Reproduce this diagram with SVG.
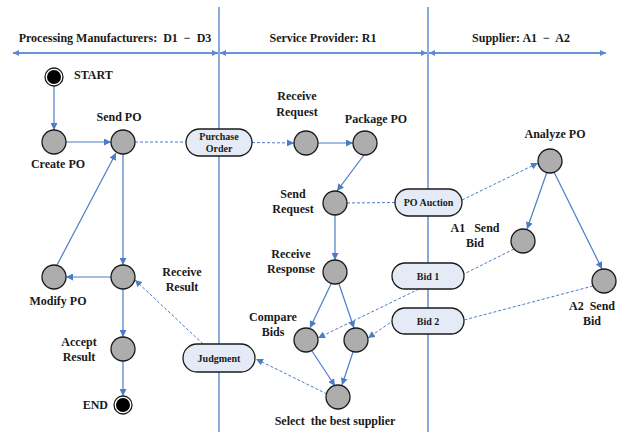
<svg xmlns="http://www.w3.org/2000/svg" width="622" height="432" viewBox="0 0 622 432" font-family="'Liberation Serif', 'DejaVu Serif', serif" font-weight="bold">
<style>
text{font-family:'Liberation Serif','DejaVu Serif',serif;font-weight:700;fill:#1a1a1a;white-space:pre}
.lbl{font-size:12px}
.hdr{font-size:12px}
.pill text{font-size:10px}
.st{fill:#adadad;stroke:#1a1a1a;stroke-width:1.3}
.pill rect{fill:#e4ebf6;stroke:#1a1a1a;stroke-width:1.3}
.lane{stroke:#8eaadb;stroke-width:2;fill:none}
.solid{stroke:#4a7cc8;stroke-width:1.2;fill:none}
.dash{stroke:#4a7cc8;stroke-width:1;stroke-dasharray:3 2;fill:none}
.harr{stroke:#6a93d4;stroke-width:2;fill:none}
</style>
<defs>
<marker id="ah" viewBox="0 0 10 10" refX="10" refY="5" markerWidth="7" markerHeight="7" markerUnits="userSpaceOnUse" orient="auto">
<path d="M0,0 L10,5 L0,10 z" fill="#4a7cc8"/>
</marker>
<marker id="hh" viewBox="0 0 10 10" refX="10" refY="5" markerWidth="6" markerHeight="6" markerUnits="userSpaceOnUse" orient="auto-start-reverse">
<path d="M0,0 L10,5 L0,10 z" fill="#5b88d0"/>
</marker>
</defs>

<g id="lanes">
<line class="lane" x1="219" y1="7" x2="219" y2="432"/>
<line class="lane" x1="428" y1="7" x2="428" y2="432"/>
<line class="harr" x1="13" y1="53" x2="218" y2="53" marker-start="url(#hh)" marker-end="url(#hh)"/>
<line class="harr" x1="220" y1="53" x2="427" y2="53" marker-start="url(#hh)" marker-end="url(#hh)"/>
<line class="harr" x1="429" y1="53" x2="606" y2="53" marker-start="url(#hh)" marker-end="url(#hh)"/>
<text class="hdr" x="115" y="42" text-anchor="middle" xml:space="preserve">Processing Manufacturers:  D1  −  D3</text>
<text class="hdr" x="323" y="42" text-anchor="middle">Service Provider: R1</text>
<text class="hdr" x="521" y="42" text-anchor="middle" xml:space="preserve">Supplier: A1  −  A2</text>
</g>

<g id="connectors">
<line class="solid" x1="54" y1="86" x2="54" y2="130" marker-end="url(#ah)"/>
<line class="solid" x1="66" y1="142" x2="111" y2="142" marker-end="url(#ah)"/>
<line class="dash" x1="135" y1="142" x2="186" y2="142"/>
<line class="dash" x1="252" y1="142.5" x2="294" y2="143" marker-end="url(#ah)"/>
<line class="solid" x1="318" y1="143" x2="353" y2="143" marker-end="url(#ah)"/>
<line class="solid" x1="364" y1="155" x2="337" y2="191" marker-end="url(#ah)"/>
<line class="dash" x1="347" y1="203" x2="395" y2="202.5"/>
<line class="dash" x1="462" y1="200" x2="538" y2="163" marker-end="url(#ah)"/>
<line class="solid" x1="547" y1="172" x2="527" y2="229" marker-end="url(#ah)"/>
<line class="solid" x1="554" y1="172" x2="602" y2="269" marker-end="url(#ah)"/>
<line class="dash" x1="514" y1="249" x2="464" y2="274"/>
<line class="dash" x1="593" y1="286" x2="464" y2="320"/>
<line class="solid" x1="335" y1="215" x2="335" y2="260" marker-end="url(#ah)"/>
<line class="solid" x1="331" y1="284" x2="310" y2="328" marker-end="url(#ah)"/>
<line class="solid" x1="339" y1="284" x2="354" y2="328" marker-end="url(#ah)"/>
<line class="dash" x1="419" y1="289" x2="318" y2="338" marker-end="url(#ah)"/>
<line class="dash" x1="394" y1="320" x2="368" y2="338" marker-end="url(#ah)"/>
<line class="solid" x1="312" y1="351" x2="335" y2="386" marker-end="url(#ah)"/>
<line class="solid" x1="353" y1="352" x2="342" y2="385" marker-end="url(#ah)"/>
<line class="dash" x1="327" y1="394" x2="256" y2="359" marker-end="url(#ah)"/>
<line class="dash" x1="203" y1="344" x2="135" y2="280" marker-end="url(#ah)"/>
<line class="solid" x1="123" y1="154" x2="123" y2="265" marker-end="url(#ah)"/>
<line class="solid" x1="111" y1="277" x2="66" y2="277" marker-end="url(#ah)"/>
<line class="solid" x1="57" y1="265" x2="116" y2="153" marker-end="url(#ah)"/>
<line class="solid" x1="123" y1="289" x2="123" y2="337" marker-end="url(#ah)"/>
<line class="solid" x1="123" y1="361" x2="123" y2="396" marker-end="url(#ah)"/>
</g>

<g id="start">
<circle cx="54" cy="77" r="9" fill="#fff" stroke="#1a1a1a" stroke-width="1.3"/>
<circle cx="54" cy="77" r="7" fill="#000"/>
<text class="lbl" x="74" y="79">START</text>
</g>
<g id="create-po"><circle class="st" cx="54" cy="142" r="12"/><text class="lbl" x="58" y="168" text-anchor="middle">Create PO</text></g>
<g id="send-po"><circle class="st" cx="123" cy="142" r="12"/><text class="lbl" x="119" y="121" text-anchor="middle">Send PO</text></g>
<g id="purchase-order" class="pill"><rect x="186" y="129" width="66" height="27" rx="13.5"/><text x="219" y="140" text-anchor="middle">Purchase</text><text x="219" y="152" text-anchor="middle">Order</text></g>
<g id="receive-request"><circle class="st" cx="306" cy="143" r="12"/><text class="lbl" x="297" y="100" text-anchor="middle">Receive</text><text class="lbl" x="297" y="116" text-anchor="middle">Request</text></g>
<g id="package-po"><circle class="st" cx="365" cy="143" r="12"/><text class="lbl" x="376" y="123" text-anchor="middle">Package PO</text></g>
<g id="send-request"><circle class="st" cx="335" cy="203" r="12"/><text class="lbl" x="293" y="198" text-anchor="middle">Send</text><text class="lbl" x="293" y="213" text-anchor="middle">Request</text></g>
<g id="po-auction" class="pill"><rect x="395" y="189" width="67" height="27" rx="13.5"/><text x="428.5" y="206" text-anchor="middle">PO Auction</text></g>
<g id="analyze-po"><circle class="st" cx="550" cy="161" r="12"/><text class="lbl" x="555" y="138" text-anchor="middle">Analyze PO</text></g>
<g id="a1-send-bid"><circle class="st" cx="523" cy="241" r="12"/><text class="lbl" x="475" y="232" text-anchor="middle" xml:space="preserve">A1   Send</text><text class="lbl" x="475" y="247" text-anchor="middle">Bid</text></g>
<g id="a2-send-bid"><circle class="st" cx="604" cy="281" r="12"/><text class="lbl" x="592" y="310" text-anchor="middle" xml:space="preserve">A2  Send</text><text class="lbl" x="592" y="325" text-anchor="middle">Bid</text></g>
<g id="bid-1" class="pill"><rect x="392" y="263" width="72" height="26" rx="13"/><text x="428" y="280" text-anchor="middle">Bid 1</text></g>
<g id="bid-2" class="pill"><rect x="392" y="308" width="72" height="26" rx="13"/><text x="428" y="325" text-anchor="middle">Bid 2</text></g>
<g id="receive-response"><circle class="st" cx="335" cy="272" r="12"/><text class="lbl" x="291" y="258" text-anchor="middle">Receive</text><text class="lbl" x="291" y="273" text-anchor="middle">Response</text></g>
<g id="compare-bids"><circle class="st" cx="306" cy="340" r="12"/><text class="lbl" x="273" y="321" text-anchor="middle">Compare</text><text class="lbl" x="273" y="336" text-anchor="middle">Bids</text></g>
<g id="compare-bids-2"><circle class="st" cx="356" cy="340" r="12"/></g>
<g id="select-best"><circle class="st" cx="338" cy="397" r="12"/><text class="lbl" x="335" y="425" text-anchor="middle" xml:space="preserve">Select  the best supplier</text></g>
<g id="judgment" class="pill"><rect x="183" y="344" width="72" height="28" rx="14"/><text x="219" y="362" text-anchor="middle">Judgment</text></g>
<g id="modify-po"><circle class="st" cx="54" cy="277" r="12"/><text class="lbl" x="58" y="305" text-anchor="middle">Modify PO</text></g>
<g id="receive-result"><circle class="st" cx="123" cy="277" r="12"/><text class="lbl" x="182" y="276" text-anchor="middle">Receive</text><text class="lbl" x="182" y="291" text-anchor="middle">Result</text></g>
<g id="accept-result"><circle class="st" cx="123" cy="349" r="12"/><text class="lbl" x="79" y="346" text-anchor="middle">Accept</text><text class="lbl" x="79" y="361" text-anchor="middle">Result</text></g>
<g id="end">
<circle cx="123" cy="405" r="9" fill="#fff" stroke="#1a1a1a" stroke-width="1.3"/>
<circle cx="123" cy="405" r="7" fill="#000"/>
<text class="lbl" x="108" y="409" text-anchor="end">END</text>
</g>
</svg>
